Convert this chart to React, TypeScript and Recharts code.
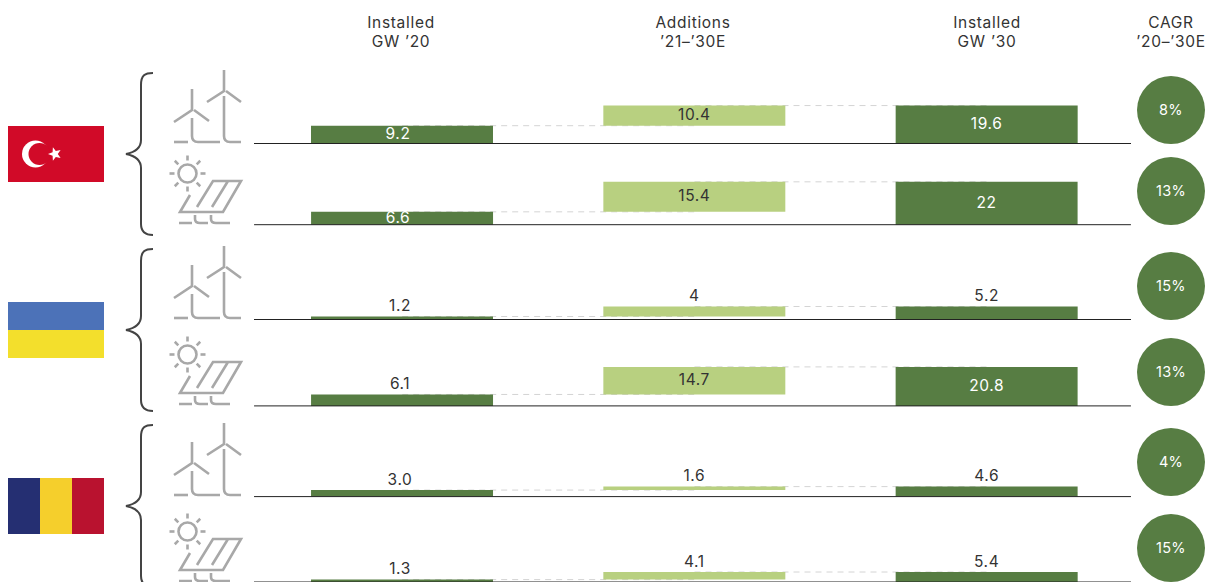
import { Bar, BarChart, Cell, LabelList, ReferenceLine, XAxis, YAxis } from "recharts";

const categories = ["Installed '20", "Additions", "Installed '30"];

// one entry per row: Turkey wind/solar, Ukraine wind/solar, Romania wind/solar
const installed20 = [9.2, 6.6, 1.2, 6.1, 3.0, 1.3];
const additions = [10.4, 15.4, 4, 14.7, 1.6, 4.1];
const installed30 = [19.6, 22, 5.2, 20.8, 4.6, 5.4];
const cagr = ["8%", "13%", "15%", "13%", "4%", "15%"];
const axisMax = [31, 30.8, 24, 32, 27.6, 32.4];

const baselines = [143.5, 224.7, 319.5, 405.9, 496.6, 582];
const badgeCentres = [110, 191, 286, 372, 462, 548];

const DARK_GREEN = "#577d43";
const LIGHT_GREEN = "#b8d080";
const INK = "#333333";
const ICON = "#a8a8a8";
const FONT = "Inter, sans-serif";
const PLOT_H = 60;

function rowData(i: number) {
  return [
    { name: categories[0], base: 0, value: installed20[i], text: installed20[i].toFixed(1), color: DARK_GREEN },
    { name: categories[1], base: installed20[i], value: additions[i], text: String(additions[i]), color: LIGHT_GREEN },
    { name: categories[2], base: 0, value: installed30[i], text: String(installed30[i]), color: DARK_GREEN },
  ];
}

// Small bars carry their number above, tall ones inside
function BarText(props: any, data: ReturnType<typeof rowData>) {
  const { x, y, width, height, index } = props;
  const d = data[index];
  const inside = d.value >= 6.5;
  const cy = inside ? y + height / 2 - 1 : y - 11;
  const color = !inside ? INK : d.color === DARK_GREEN ? "#ffffff" : INK;
  // the first column's numbers sit a little left of the bar's centre
  const nudge = index === 0 ? (inside ? -4 : -2) : 0;
  return (
    <text
      x={x + width / 2 + nudge}
      y={cy}
      textAnchor="middle"
      dominantBaseline="central"
      fill={color}
      style={{ fontFamily: FONT, fontSize: 15.5, letterSpacing: 0.6 }}
    >
      {d.text}
    </text>
  );
}

function Row({ i }: { i: number }) {
  const data = rowData(i);
  const connector = { stroke: "#d4d4d4", strokeDasharray: "6 5", strokeWidth: 1, zIndex: 0 };
  // keep the wrapper on whole pixels so the baseline lands where it should
  const rawTop = baselines[i] - PLOT_H;
  const top = Math.floor(rawTop);
  const extra = rawTop - top;
  return (
    <div style={{ position: "absolute", left: 254, top, width: 877, height: PLOT_H + 3 }}>
      <BarChart
        width={877}
        height={PLOT_H + extra + 2}
        data={data}
        margin={{ top: extra, right: 0, bottom: 2, left: 0 }}
        barSize={182}
      >
        <XAxis dataKey="name" hide padding={{ left: 2, right: -2 }} />
        <YAxis hide domain={[0, axisMax[i]]} />
        <ReferenceLine
          {...connector}
          segment={[
            { x: categories[0], y: installed20[i] },
            { x: categories[1], y: installed20[i] },
          ]}
        />
        <ReferenceLine
          {...connector}
          segment={[
            { x: categories[1], y: installed30[i] },
            { x: categories[2], y: installed30[i] },
          ]}
        />
        <Bar dataKey="base" stackId="a" fill="transparent" isAnimationActive={false} />
        <Bar dataKey="value" stackId="a" isAnimationActive={false}>
          {data.map((d) => (
            <Cell key={d.name} fill={d.color} />
          ))}
          <LabelList dataKey="text" content={(p: any) => BarText(p, data)} />
        </Bar>
        <ReferenceLine y={0} stroke="#222222" strokeWidth={1} />
      </BarChart>
    </div>
  );
}

function WindIcon({ dy }: { dy: number }) {
  return (
    <g transform={`translate(0 ${dy})`} fill="none" stroke={ICON} strokeWidth={2.6}>
      <path d="M224 70V91L207 102M226 91L241 102M224 96V136Q224 142 230 142H241" />
      <path d="M192 89V110L174 122M194 110L209 121M192 118V136Q192 142 198 142H220" />
      <path d="M174 142H188" />
    </g>
  );
}

function SolarIcon({ dy }: { dy: number }) {
  const rays = [0, 45, 90, 135, 180, 225, 270, 315];
  return (
    <g transform={`translate(0 ${dy})`} fill="none" stroke={ICON} strokeWidth={2.6}>
      <circle cx={187.5} cy={173.5} r={9} />
      {rays.map((a) => (
        <line
          key={a}
          x1={187.5 + 13 * Math.cos((a * Math.PI) / 180)}
          y1={173.5 + 13 * Math.sin((a * Math.PI) / 180)}
          x2={187.5 + 18 * Math.cos((a * Math.PI) / 180)}
          y2={173.5 + 18 * Math.sin((a * Math.PI) / 180)}
        />
      ))}
      <path d="M190 195L180 212H223L241 181H213L197 207M228 181L212 207" />
      <path d="M179 223H192M195 215V219Q195 223 200 223H208M211 215V219Q211 223 216 223H230" />
    </g>
  );
}

function Brace({ dy }: { dy: number }) {
  return (
    <path
      transform={`translate(0 ${dy})`}
      d="M153 73C145 73 141 75 141 85V140C141 148 136 152 126 154C136 156 141 160 141 168V224C141 232 145 235 153 235"
      fill="none"
      stroke="#444444"
      strokeWidth={2}
    />
  );
}

function Backdrop() {
  const head = { fontFamily: FONT, fontSize: 15.5, letterSpacing: 0.7, fill: INK, textAnchor: "middle" as const };
  const columns = [
    { x: 401, a: "Installed", b: "GW ’20" },
    { x: 693, a: "Additions", b: "’21–’30E" },
    { x: 987, a: "Installed", b: "GW ’30" },
    { x: 1171, a: "CAGR", b: "’20–’30E" },
  ];
  return (
    <svg width={1206} height={582} style={{ position: "absolute", left: 0, top: 0 }}>
      {columns.map((c) => (
        <g key={c.x + c.a}>
          <text x={c.x} y={28} {...head}>{c.a}</text>
          <text x={c.x} y={47} {...head}>{c.b}</text>
        </g>
      ))}

      <rect x={8} y={126} width={96} height={56} fill="#d10a28" />
      <circle cx={35.5} cy={154} r={13.5} fill="#ffffff" />
      <circle cx={39.5} cy={154} r={11} fill="#d10a28" />
      <path
        d="M48 154L52.6 155.8L52.9 160.8L55.8 156.9L60.6 158L57.8 154L60.6 150L55.8 151.1L52.9 147.2L52.6 152.2Z"
        fill="#ffffff"
      />

      <rect x={8} y={302} width={96} height={28} fill="#4c72b8" />
      <rect x={8} y={330} width={96} height={28} fill="#f3df2c" />

      <rect x={8} y={478} width={32} height={56} fill="#252f72" />
      <rect x={40} y={478} width={32} height={56} fill="#f5cf2c" />
      <rect x={72} y={478} width={32} height={56} fill="#b9122f" />

      <Brace dy={0} />
      <Brace dy={176} />
      <Brace dy={352} />

      <WindIcon dy={0} />
      <SolarIcon dy={0} />
      <WindIcon dy={176} />
      <SolarIcon dy={181} />
      <WindIcon dy={353} />
      <SolarIcon dy={358} />

      {badgeCentres.map((cy, i) => (
        <g key={cy}>
          <circle cx={1171} cy={cy} r={34} fill={DARK_GREEN} />
          <text
            x={1171}
            y={cy - 1}
            textAnchor="middle"
            dominantBaseline="central"
            fill="#ffffff"
            style={{ fontFamily: FONT, fontSize: 14.5, letterSpacing: 0.3 }}
          >
            {cagr[i]}
          </text>
        </g>
      ))}
    </svg>
  );
}

export default function App() {
  return (
    <div style={{ position: "absolute", left: 0, top: 0, width: 1206, height: 582, overflow: "hidden", background: "#ffffff" }}>
      <Backdrop />
      {baselines.map((_, i) => (
        <Row key={i} i={i} />
      ))}
    </div>
  );
}
